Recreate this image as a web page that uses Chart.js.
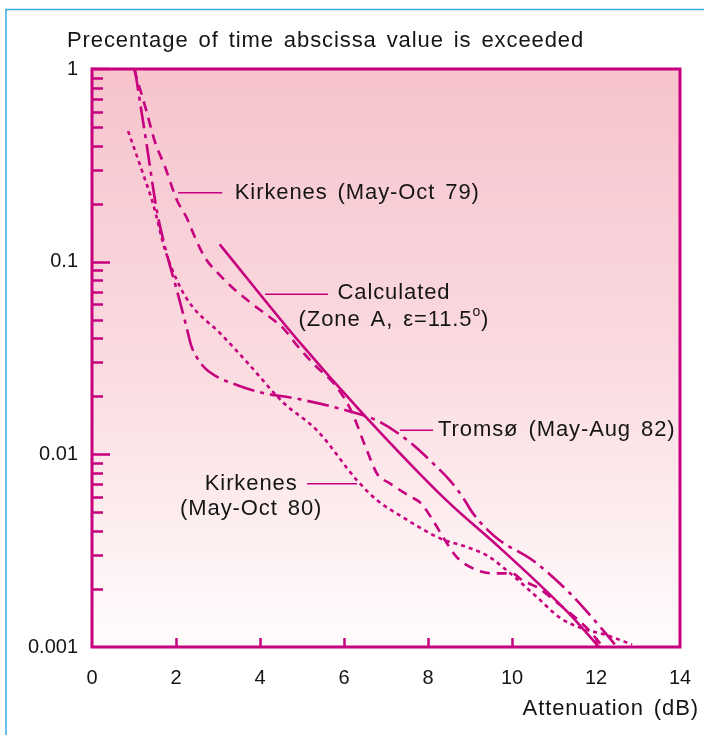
<!DOCTYPE html>
<html><head><meta charset="utf-8">
<script src="https://cdn.jsdelivr.net/npm/chart.js@4.4.1/dist/chart.umd.min.js"></script>
<style>html,body{margin:0;padding:0;background:#fff;}</style>
</head><body>
<canvas id="c" width="704" height="735"></canvas>
<script>
// ---- data ----
const xTicks = [0, 2, 4, 6, 8, 10, 12, 14];
const yTicks = [0.001, 0.01, 0.1, 1];
const yTickLabels = ['0.001', '0.01', '0.1', '1'];

const calcX = [3.04, 4.94, 6.49, 8.44, 9.70, 11.36, 12.07];
const calcY = [0.123, 0.0382, 0.0159, 0.00577, 0.00329, 0.00149, 0.001];

const tromsoX = [1.02, 1.31, 1.55, 1.79, 2.02, 2.24, 2.36, 2.48, 2.69, 3.00, 3.40, 4.00, 4.95, 6.14, 6.86, 7.57, 8.12, 8.52, 8.83, 9.07, 9.43, 9.71, 10.50, 11.38, 12.17, 12.50];
const tromsoY = [1.0, 0.394, 0.181, 0.108, 0.0711, 0.0468, 0.0368, 0.0323, 0.0280, 0.0251, 0.0231, 0.0210, 0.0193, 0.0167, 0.0147, 0.01155, 0.00898, 0.00733, 0.00598, 0.00494, 0.00403, 0.00357, 0.00281, 0.00190, 0.00122, 0.001];

const kirk79X = [1.0, 1.29, 1.50, 1.74, 2.02, 2.26, 2.45, 2.69, 3.00, 3.36, 3.76, 4.17, 4.55, 4.88, 5.26, 5.83, 6.19, 6.50, 6.81, 7.05, 7.57, 7.81, 8.12, 8.36, 8.69, 9.07, 9.55, 10.0, 10.26, 10.60, 11.07, 11.79, 12.17];
const kirk79Y = [1.0, 0.612, 0.418, 0.310, 0.209, 0.168, 0.134, 0.105, 0.0871, 0.0728, 0.0616, 0.0527, 0.0452, 0.0368, 0.0297, 0.0223, 0.0165, 0.0111, 0.00778, 0.00716, 0.00605, 0.00563, 0.00454, 0.00371, 0.00292, 0.00256, 0.00241, 0.00241, 0.00221, 0.00204, 0.00170, 0.00125, 0.001];

const kirk80X = [0.86, 1.21, 1.45, 1.74, 2.10, 2.40, 3.05, 3.69, 4.55, 5.36, 6.31, 6.79, 7.33, 8.29, 8.93, 9.40, 9.79, 10.60, 11.14, 11.62, 12.26, 12.86];
const kirk80Y = [0.476, 0.288, 0.201, 0.115, 0.0737, 0.0581, 0.0425, 0.0301, 0.0186, 0.0133, 0.00733, 0.00577, 0.00482, 0.00366, 0.00330, 0.00299, 0.00259, 0.00181, 0.00142, 0.00126, 0.00115, 0.00103];

const titleText = 'Precentage of time abscissa value is exceeded';
const xTitleText = 'Attenuation (dB)';

// annotation labels (anchor in data units)
const labels = [
  { lines: ['Kirkenes (May-Oct 79)'], align: 'left', x: 3.40, y: [0.228], lead: [2.05, 3.10, 0.228] },
  { lines: ['Calculated', '(Zone A, ε=11.5|o|)'], align: 'center', x: 7.19, y: [0.0686, 0.0497], lead: [4.12, 5.62, 0.0678] },
  { lines: ['Tromsø (May-Aug 82)'], align: 'left', x: 8.24, y: [0.01333], lead: [7.33, 8.12, 0.01333] },
  { lines: ['Kirkenes', '(May-Oct 80)'], align: 'center', x: 3.79, y: [0.00700, 0.00518], lead: [5.12, 6.31, 0.00703] }
];

const MAG = '#c6007e';
const TXT = '#151515';
const FONT = '"Liberation Sans", Arial, Helvetica, sans-serif';

const pts = (xs, ys) => xs.map((x, i) => ({ x: x, y: ys[i] }));

function ds(label, xs, ys, dash) {
  return {
    label: label, data: pts(xs, ys), borderColor: MAG, borderWidth: 2.6,
    borderDash: dash, pointRadius: 0, fill: false, cubicInterpolationMode: 'monotone',
    borderCapStyle: 'butt'
  };
}

function drawSpaced(ctx, text, x, y, align) {
  const parts = text.split('|');
  const big = '22px ' + FONT, small = '14px ' + FONT;
  let w = 0;
  const widths = parts.map((p, i) => { ctx.font = (i === 1 ? small : big); const m = ctx.measureText(p).width; w += m; return m; });
  let sx = align === 'center' ? x - w / 2 : (align === 'right' ? x - w : x);
  ctx.textAlign = 'left';
  parts.forEach((p, i) => {
    ctx.font = (i === 1 ? small : big);
    ctx.textBaseline = 'middle';
    ctx.fillText(p, sx, i === 1 ? y - 8 : y);
    sx += widths[i];
  });
}

const deco = {
  id: 'deco',
  beforeDraw(chart) {
    const { ctx, chartArea: a } = chart;
    ctx.save();
    ctx.strokeStyle = '#3aa9e0'; ctx.lineWidth = 1.5;
    ctx.beginPath(); ctx.moveTo(6, chart.height); ctx.lineTo(6, 9.5); ctx.lineTo(chart.width, 9.5); ctx.stroke();
    const g = ctx.createLinearGradient(0, a.top, 0, a.bottom);
    g.addColorStop(0, '#f7c3cd');
    g.addColorStop(0.5, '#fadbe0');
    g.addColorStop(1, '#fffcfc');
    ctx.fillStyle = g;
    ctx.fillRect(a.left, a.top, a.right - a.left, a.bottom - a.top);
    ctx.restore();
  },
  afterDraw(chart) {
    const { ctx, chartArea: a } = chart;
    const xs = chart.scales.x, ys = chart.scales.y;
    ctx.save();
    ctx.strokeStyle = MAG; ctx.lineWidth = 3;
    ctx.strokeRect(a.left, a.top, a.right - a.left, a.bottom - a.top);
    ctx.lineWidth = 2.5;
    ctx.beginPath();
    [0.001, 0.01, 0.1].forEach(d => {
      for (let m = 2; m <= 9; m++) {
        const py = Math.round(ys.getPixelForValue(m * d)) + 0.5;
        ctx.moveTo(a.left, py); ctx.lineTo(a.left + 11, py);
      }
    });
    [0.01, 0.1].forEach(v => {
      const py = Math.round(ys.getPixelForValue(v)) + 0.5;
      ctx.moveTo(a.left, py); ctx.lineTo(a.left + 18, py);
    });
    const pTop = ys.getPixelForValue(1);
    ctx.moveTo(a.left, pTop); ctx.lineTo(a.left + 18, pTop);
    xTicks.forEach(v => {
      if (v <= 0 || v >= 14) return;
      const px = Math.round(xs.getPixelForValue(v)) + 0.5;
      ctx.moveTo(px, a.bottom); ctx.lineTo(px, a.bottom - 9);
    });
    ctx.stroke();

    ctx.fillStyle = TXT;
    ctx.letterSpacing = '0.9px';
    ctx.wordSpacing = '3px';
    ctx.font = '22px ' + FONT;
    ctx.textBaseline = 'middle';
    ctx.textAlign = 'left';
    ctx.fillText(titleText, 67, a.top - 28);
    ctx.textAlign = 'right';
    ctx.fillText(xTitleText, chart.width - 5, a.bottom + 62);

    labels.forEach(l => {
      const y0 = ys.getPixelForValue(l.lead[2]);
      ctx.strokeStyle = MAG; ctx.lineWidth = 1.6;
      ctx.beginPath();
      ctx.moveTo(xs.getPixelForValue(l.lead[0]), y0);
      ctx.lineTo(xs.getPixelForValue(l.lead[1]), y0);
      ctx.stroke();
      const px = xs.getPixelForValue(l.x);
      l.lines.forEach((t, i) => {
        drawSpaced(ctx, t, px, ys.getPixelForValue(l.y[i]), l.align);
      });
    });
    ctx.restore();
  }
};

new Chart(document.getElementById('c'), {
  type: 'line',
  data: {
    datasets: [
      ds('Calculated (Zone A, ε=11.5°)', calcX, calcY, []),
      ds('Tromsø (May-Aug 82)', tromsoX, tromsoY, [22, 6, 4, 6]),
      ds('Kirkenes (May-Oct 79)', kirk79X, kirk79Y, [10, 7]),
      ds('Kirkenes (May-Oct 80)', kirk80X, kirk80Y, [4, 4])
    ]
  },
  options: {
    responsive: false,
    animation: false,
    devicePixelRatio: 1,
    layout: { padding: { top: 69, right: 24, bottom: 38, left: 0 } },
    plugins: { legend: { display: false }, tooltip: { enabled: false }, title: { display: false } },
    scales: {
      x: {
        type: 'linear', min: 0, max: 14,
        afterBuildTicks(s) { s.ticks = xTicks.map(v => ({ value: v })); },
        ticks: { font: { family: FONT, size: 20 }, color: TXT, padding: 19, maxRotation: 0, autoSkip: false },
        grid: { display: false, drawTicks: false },
        border: { display: false },
        afterFit(s) { s.height = 50; s.paddingLeft = 0; s.paddingRight = 0; }
      },
      y: {
        type: 'logarithmic', min: 0.001, max: 1,
        afterBuildTicks(s) { s.ticks = yTicks.map(v => ({ value: v })); },
        ticks: {
          font: { family: FONT, size: 20 }, color: TXT, padding: 14, autoSkip: false,
          callback: (v) => yTickLabels[yTicks.indexOf(v)]
        },
        grid: { display: false, drawTicks: false },
        border: { display: false },
        afterFit(s) { s.width = 92; s.paddingTop = 0; s.paddingBottom = 0; }
      }
    }
  },
  plugins: [deco]
});
</script>
</body></html>
